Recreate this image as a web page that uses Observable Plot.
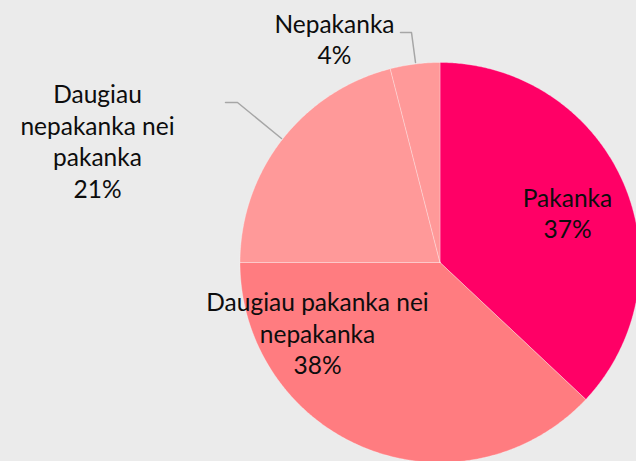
<!DOCTYPE html>
<html>
<head>
<meta charset="utf-8">
<script src="https://cdn.jsdelivr.net/npm/d3@7"></script>
<script src="https://cdn.jsdelivr.net/npm/@observablehq/plot@0.6"></script>
<style>
  html, body { margin: 0; padding: 0; background: #ebebeb; overflow: hidden; }
  #chart { width: 636px; height: 461px; }
</style>
</head>
<body>
<div id="chart"></div>
<script>
// ---- data ----
const categories = ["Pakanka", "Daugiau pakanka nei nepakanka", "Daugiau nepakanka nei pakanka", "Nepakanka"];
const values = [37, 38, 21, 4];
const labelTexts = ["Pakanka\n37%", "Daugiau pakanka nei\nnepakanka\n38%", "Daugiau\nnepakanka nei\npakanka\n21%", "Nepakanka\n4%"];
const colors = ["#ff0066", "#ff7c80", "#ff9999", "#ff9999"];

// ---- layout (pixel-space coordinates used via linear identity scales) ----
const W = 636, H = 461;
const cx = 439.5, cy = 262, R = 200;
const labelPos = [[567, 212], [317, 332], [97, 140], [334, 38]];
const leaders = [
  {cat: "Nepakanka", pts: [[400, 32], [411, 32], [415, 62]]},
  {cat: "Daugiau nepakanka nei pakanka", pts: [[225, 102], [237, 102], [281, 138]]}
];

// ---- pie geometry from values ----
const total = d3.sum(values);
const slicePts = [];
let acc = 0;
categories.forEach((c, i) => {
  const a0 = acc / total * 2 * Math.PI;
  acc += values[i];
  const a1 = acc / total * 2 * Math.PI;
  slicePts.push({cat: c, x: cx, y: cy});
  const n = Math.max(2, Math.ceil((a1 - a0) / (Math.PI / 360)));
  for (let k = 0; k <= n; k++) {
    const a = a0 + (a1 - a0) * k / n;
    slicePts.push({cat: c, x: cx + R * Math.sin(a), y: cy - R * Math.cos(a)});
  }
  slicePts.push({cat: c, x: cx, y: cy});
});

const labels = categories.map((c, i) => ({cat: c, text: labelTexts[i], x: labelPos[i][0], y: labelPos[i][1]}));
const leaderPts = leaders.flatMap(l => l.pts.map(p => ({cat: l.cat, x: p[0], y: p[1]})));

const plot = Plot.plot({
  width: W,
  height: H,
  margin: 0,
  style: {background: "#ebebeb", overflow: "hidden"},
  x: {domain: [0, W], range: [0, W], axis: null},
  y: {domain: [0, H], range: [0, H], axis: null},
  color: {domain: categories, range: colors, legend: false},
  marks: [
    Plot.line(slicePts, {x: "x", y: "y", z: "cat", fill: "cat", stroke: "#ffffff", strokeWidth: 0.6, strokeOpacity: 0.5, curve: "linear", clip: true}),
    Plot.line(leaderPts, {x: "x", y: "y", z: "cat", stroke: "#a6a6a6", strokeWidth: 1.5}),
    Plot.text(labels, {x: "x", y: "y", text: "text", fill: "#0d0d0d", fontSize: 24.5, lineHeight: 1.29, fontFamily: "Lato", textAnchor: "middle"})
  ]
});
document.getElementById("chart").appendChild(plot);
</script>
</body>
</html>
